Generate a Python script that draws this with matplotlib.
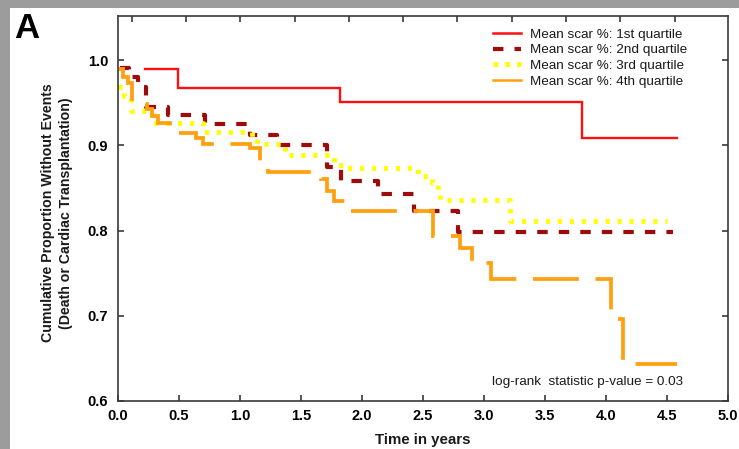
import numpy as np
import matplotlib
matplotlib.use("Agg")
import matplotlib.pyplot as plt
from matplotlib.lines import Line2D
from matplotlib.patches import Rectangle

plt.rcParams['font.family'] = ['Liberation Sans', 'DejaVu Sans']
plt.rcParams['lines.scale_dashes'] = False

# ---- data ----
labels = ["Mean scar %: 1st quartile", "Mean scar %: 2nd quartile",
          "Mean scar %: 3rd quartile", "Mean scar %: 4th quartile"]

q1_t = [0.22, 0.49, 1.82, 3.80]
q1_s = [0.990, 0.967, 0.951, 0.909]
q1_end = 4.58

q2_t = [0.02, 0.09, 0.165, 0.23, 0.41, 0.716, 1.08, 1.30, 1.71, 1.83, 2.13, 2.43, 2.79]
q2_s = [0.991, 0.980, 0.968, 0.945, 0.935, 0.925, 0.912, 0.900, 0.875, 0.858, 0.843, 0.823, 0.798]
q2_end = 4.55

q3_t = [0.0, 0.05, 0.11, 0.28, 0.70, 1.10, 1.14, 1.37, 1.77, 1.85, 2.46, 2.57, 2.62, 2.64, 3.21]
q3_s = [0.968, 0.958, 0.940, 0.926, 0.915, 0.908, 0.901, 0.888, 0.877, 0.873, 0.864, 0.856, 0.848, 0.836, 0.811]
q3_end = 4.50

q4_t = [0.0, 0.04, 0.085, 0.115, 0.24, 0.275, 0.33, 0.43, 0.64, 0.70, 1.08, 1.16, 1.23, 1.66, 1.71,
        1.77, 1.89, 2.58, 2.80, 2.90, 3.06, 4.04, 4.14]
q4_s = [0.990, 0.980, 0.973, 0.948, 0.942, 0.934, 0.926, 0.914, 0.909, 0.901, 0.897, 0.882, 0.869, 0.860, 0.846,
        0.835, 0.823, 0.794, 0.780, 0.762, 0.743, 0.696, 0.643]
q4_end = 4.58

x_ticks = [0.0, 0.5, 1.0, 1.5, 2.0, 2.5, 3.0, 3.5, 4.0, 4.5, 5.0]
y_ticks = [0.6, 0.7, 0.8, 0.9, 1.0]
pvalue_text = "log-rank  statistic p-value = 0.03"

colors = ["#ff1010", "#9e0b0b", "#ffff00", "#ffa010"]

W, H = 739, 449
fig = plt.figure(figsize=(W / 100, H / 100), dpi=100)
fig.patch.set_facecolor("white")
# grey frame strips
fig.patches.append(Rectangle((0, 1 - 8 / H), 1, 8 / H, transform=fig.transFigure,
                             facecolor="#9c9c9c", edgecolor="none", zorder=0))
fig.patches.append(Rectangle((0, 0), 10 / W, 1, transform=fig.transFigure,
                             facecolor="#9c9c9c", edgecolor="none", zorder=0))

ax = fig.add_axes([118 / W, (H - 401) / H, 610 / W, 385 / H])
ax.set_xlim(0, 5.0)
ax.set_ylim(0.6, 1.0 + 44 / 852.5)


def steps(t, s, end):
    return list(t) + [end], list(s) + [s[-1]]


x, y = steps(q1_t, q1_s, q1_end)
ax.plot(x, y, drawstyle="steps-post", color=colors[0], lw=1.7, solid_joinstyle="miter")
x, y = steps(q2_t, q2_s, q2_end)
ax.plot(x, y, drawstyle="steps-post", color=colors[1], lw=3.0, dashes=(7.5, 8.0), dash_capstyle="butt")
x, y = steps(q3_t, q3_s, q3_end)
ax.plot(x, y, drawstyle="steps-post", color=colors[2], lw=3.5, dashes=(3.0, 5.6), dash_capstyle="butt")
x, y = steps(q4_t, q4_s, q4_end)
ax.plot(x, y, drawstyle="steps-post", color=colors[3], lw=2.7, dashes=(33, 12), dash_capstyle="butt",
        dash_joinstyle="miter")

# axes styling
for sp in ax.spines.values():
    sp.set_color("#3a3a3a")
    sp.set_linewidth(1.2)
ax.set_xticks(x_ticks)
ax.set_yticks(y_ticks)
ax.set_xticklabels([f"{v:.1f}" for v in x_ticks], fontsize=10.5, fontweight="bold")
ax.set_yticklabels([f"{v:.1f}" for v in y_ticks], fontsize=10.5, fontweight="bold")
ax.tick_params(axis="x", direction="in", length=4, width=1.2, color="#3a3a3a", pad=6)
ax.tick_params(axis="y", direction="in", length=4, width=1.2, color="#3a3a3a", pad=7,
               right=True)

# top axis ticks (different spacing in the reference)
top_ticks = 0.112 + 0.445 * np.arange(11)
axt = ax.secondary_xaxis("top")
axt.set_xticks(top_ticks)
axt.set_xticklabels([])
axt.tick_params(direction="in", length=4, width=1.2, color="#3a3a3a")
axt.spines["top"].set_visible(False)

# legend
handles = [
    Line2D([], [], color=colors[0], lw=1.8),
    Line2D([], [], color=colors[1], lw=3.0, dashes=(7.5, 8.0)),
    Line2D([], [], color=colors[2], lw=3.5, dashes=(3.5, 5.0)),
    Line2D([], [], color=colors[3], lw=1.8),
]
leg = ax.legend(handles, labels, loc="upper left", bbox_to_anchor=(0.615, 0.968),
                frameon=False, fontsize=9.7, handlelength=2.1, handletextpad=0.6,
                labelspacing=0.24, borderpad=0, borderaxespad=0)
for txt in leg.get_texts():
    txt.set_color("#1a1a1a")

ax.text(0.6126, 0.0486, pvalue_text, transform=ax.transAxes, fontsize=9.7,
        ha="left", va="center", color="#1a1a1a")

# axis labels
fig.text(57.0 / W, 1 - 213 / H,
         "Cumulative Proportion Without Events\n(Death or Cardiac Transplantation)",
         rotation=90, ha="center", va="center", multialignment="center",
         fontsize=10.2, fontweight="bold", linespacing=1.35, color="#1a1a1a")
fig.text(423 / W, 1 - 440 / H, "Time in years", ha="center", va="center",
         fontsize=10.8, fontweight="bold", color="#1a1a1a")

# panel letter
fig.text(14 / W, 1 - 28 / H, "A", ha="left", va="center", fontsize=25,
         fontweight="bold", color="black")

fig.savefig("out.png", dpi=100)
